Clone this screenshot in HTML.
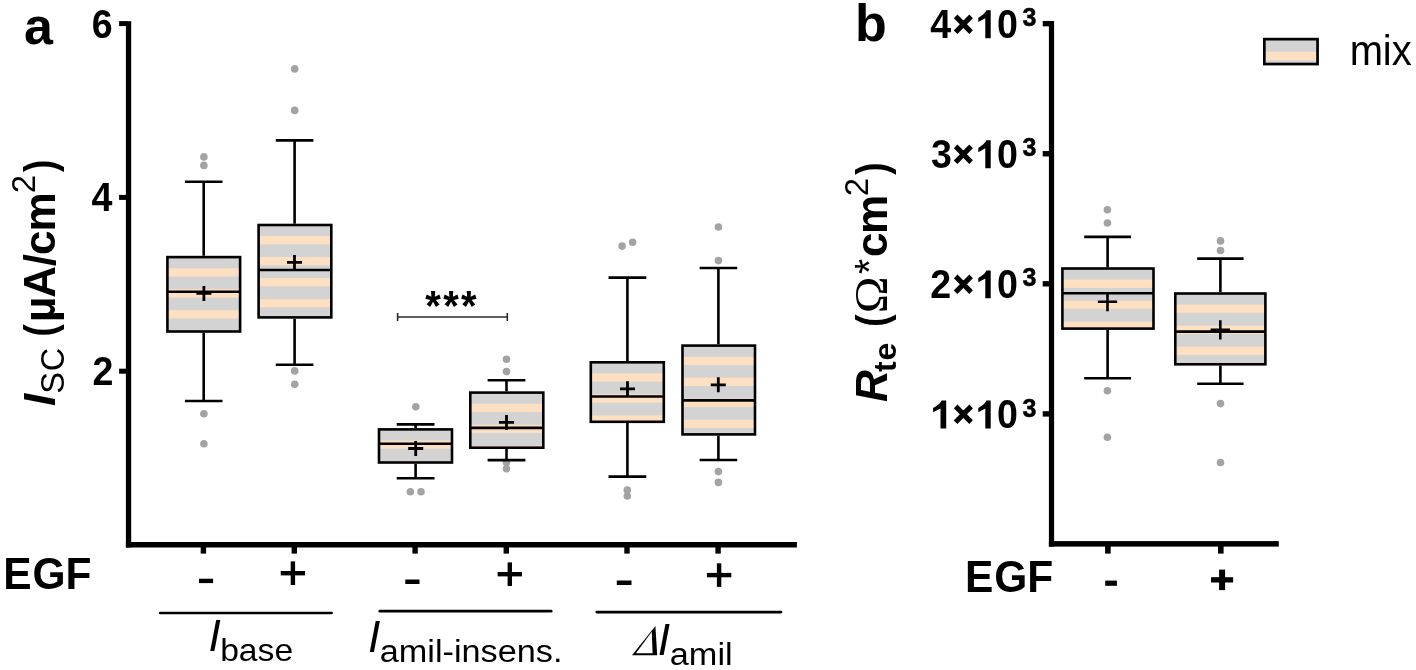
<!DOCTYPE html>
<html>
<head>
<meta charset="utf-8">
<title>Figure</title>
<style>
html,body{margin:0;padding:0;background:#fff;}
body{width:1416px;height:670px;overflow:hidden;font-family:"Liberation Sans",sans-serif;}
svg{display:block;}
text{font-kerning:none;}
svg{will-change:transform;}
</style>
</head>
<body>
<svg width="1416" height="670" viewBox="0 0 1416 670">
<rect x="0" y="0" width="1416" height="670" fill="#ffffff"/>
<defs>
<clipPath id="c0"><rect x="167.40" y="257.10" width="72.70" height="74.40"/></clipPath>
<clipPath id="c1"><rect x="258.60" y="225.00" width="72.70" height="92.40"/></clipPath>
<clipPath id="c2"><rect x="379.00" y="429.40" width="73.00" height="33.10"/></clipPath>
<clipPath id="c3"><rect x="470.30" y="392.60" width="73.00" height="55.10"/></clipPath>
<clipPath id="c4"><rect x="590.80" y="362.30" width="73.00" height="59.50"/></clipPath>
<clipPath id="c5"><rect x="682.50" y="345.60" width="72.50" height="88.80"/></clipPath>
<clipPath id="c6"><rect x="1062.40" y="268.50" width="91.10" height="60.10"/></clipPath>
<clipPath id="c7"><rect x="1175.30" y="293.50" width="90.10" height="70.80"/></clipPath>
</defs>
<rect x="125.90" y="21.20" width="5.30" height="526.30" fill="#000"/>
<rect x="125.90" y="542.00" width="671.00" height="5.50" fill="#000"/>
<rect x="119.10" y="21.10" width="7.90" height="5.00" fill="#000"/>
<rect x="119.10" y="194.90" width="7.90" height="5.00" fill="#000"/>
<rect x="119.10" y="368.70" width="7.90" height="5.00" fill="#000"/>
<rect x="200.70" y="547.00" width="5.40" height="6.60" fill="#000"/>
<rect x="291.60" y="547.00" width="5.40" height="6.60" fill="#000"/>
<rect x="412.40" y="547.00" width="5.40" height="6.60" fill="#000"/>
<rect x="503.60" y="547.00" width="5.40" height="6.60" fill="#000"/>
<rect x="624.30" y="547.00" width="5.40" height="6.60" fill="#000"/>
<rect x="715.40" y="547.00" width="5.40" height="6.60" fill="#000"/>
<rect x="1048.90" y="21.00" width="5.20" height="525.60" fill="#000"/>
<rect x="1048.90" y="541.10" width="229.90" height="5.50" fill="#000"/>
<rect x="1042.70" y="20.95" width="7.30" height="5.40" fill="#000"/>
<rect x="1042.70" y="151.05" width="7.30" height="5.40" fill="#000"/>
<rect x="1042.70" y="281.10" width="7.30" height="5.40" fill="#000"/>
<rect x="1042.70" y="411.20" width="7.30" height="5.40" fill="#000"/>
<rect x="1105.10" y="546.00" width="5.60" height="7.60" fill="#000"/>
<rect x="1218.00" y="546.00" width="5.60" height="7.60" fill="#000"/>
<circle cx="203.9" cy="156.9" r="3.8" fill="#a3a3a3"/>
<circle cx="203.9" cy="165.4" r="3.8" fill="#a3a3a3"/>
<circle cx="203.9" cy="413.8" r="3.8" fill="#a3a3a3"/>
<circle cx="203.9" cy="443.8" r="3.8" fill="#a3a3a3"/>
<path d="M203.7 181.8V255.8M203.7 332.8V401.0M184.9 181.8H222.5M184.9 401.0H222.5" stroke="#000" stroke-width="2.60" fill="none"/>
<rect x="167.40" y="257.10" width="72.70" height="74.40" fill="#d3d3d3"/>
<g clip-path="url(#c0)"><rect x="167.40" y="268.20" width="72.70" height="8.30" fill="#fddfc1"/><rect x="167.40" y="289.20" width="72.70" height="8.30" fill="#fddfc1"/><rect x="167.40" y="310.20" width="72.70" height="8.30" fill="#fddfc1"/><rect x="167.40" y="331.20" width="72.70" height="8.30" fill="#fddfc1"/></g>
<rect x="167.40" y="257.10" width="72.70" height="74.40" fill="none" stroke="#000" stroke-width="2.60"/>
<path d="M167.40 291.70H240.10" stroke="#000" stroke-width="2.60"/>
<path d="M196.40 293.40H211.40M203.90 285.90V300.90" stroke="#000" stroke-width="2.80"/>
<circle cx="294.7" cy="68.9" r="3.8" fill="#a3a3a3"/>
<circle cx="294.7" cy="110.4" r="3.8" fill="#a3a3a3"/>
<circle cx="294.7" cy="370.9" r="3.8" fill="#a3a3a3"/>
<circle cx="294.7" cy="384.3" r="3.8" fill="#a3a3a3"/>
<path d="M294.6 140.4V223.7M294.6 318.7V364.7M275.8 140.4H313.4M275.8 364.7H313.4" stroke="#000" stroke-width="2.60" fill="none"/>
<rect x="258.60" y="225.00" width="72.70" height="92.40" fill="#d3d3d3"/>
<g clip-path="url(#c1)"><rect x="258.60" y="236.10" width="72.70" height="8.30" fill="#fddfc1"/><rect x="258.60" y="257.10" width="72.70" height="8.30" fill="#fddfc1"/><rect x="258.60" y="278.10" width="72.70" height="8.30" fill="#fddfc1"/><rect x="258.60" y="299.10" width="72.70" height="8.30" fill="#fddfc1"/></g>
<rect x="258.60" y="225.00" width="72.70" height="92.40" fill="none" stroke="#000" stroke-width="2.60"/>
<path d="M258.60 270.00H331.30" stroke="#000" stroke-width="2.60"/>
<path d="M287.00 262.40H302.00M294.50 254.90V269.90" stroke="#000" stroke-width="2.80"/>
<circle cx="415.8" cy="406.7" r="3.8" fill="#a3a3a3"/>
<circle cx="410.4" cy="491.7" r="3.8" fill="#a3a3a3"/>
<circle cx="421.0" cy="491.7" r="3.8" fill="#a3a3a3"/>
<path d="M415.6 424.4V428.1M415.6 463.8V478.2M396.7 424.4H434.5M396.7 478.2H434.5" stroke="#000" stroke-width="2.60" fill="none"/>
<rect x="379.00" y="429.40" width="73.00" height="33.10" fill="#d3d3d3"/>
<g clip-path="url(#c2)"><rect x="379.00" y="440.50" width="73.00" height="8.30" fill="#fddfc1"/><rect x="379.00" y="461.50" width="73.00" height="8.30" fill="#fddfc1"/></g>
<rect x="379.00" y="429.40" width="73.00" height="33.10" fill="none" stroke="#000" stroke-width="2.60"/>
<path d="M379.00 443.80H452.00" stroke="#000" stroke-width="2.60"/>
<path d="M408.20 448.50H423.20M415.70 441.00V456.00" stroke="#000" stroke-width="2.80"/>
<circle cx="506.5" cy="359.2" r="3.8" fill="#a3a3a3"/>
<circle cx="506.5" cy="371.6" r="3.8" fill="#a3a3a3"/>
<circle cx="506.5" cy="462.4" r="3.8" fill="#a3a3a3"/>
<circle cx="506.5" cy="468.8" r="3.8" fill="#a3a3a3"/>
<path d="M506.5 380.2V391.3M506.5 449.0V460.1M487.6 380.2H525.4M487.6 460.1H525.4" stroke="#000" stroke-width="2.60" fill="none"/>
<rect x="470.30" y="392.60" width="73.00" height="55.10" fill="#d3d3d3"/>
<g clip-path="url(#c3)"><rect x="470.30" y="403.70" width="73.00" height="8.30" fill="#fddfc1"/><rect x="470.30" y="424.70" width="73.00" height="8.30" fill="#fddfc1"/><rect x="470.30" y="445.70" width="73.00" height="8.30" fill="#fddfc1"/></g>
<rect x="470.30" y="392.60" width="73.00" height="55.10" fill="none" stroke="#000" stroke-width="2.60"/>
<path d="M470.30 427.90H543.30" stroke="#000" stroke-width="2.60"/>
<path d="M499.00 422.40H514.00M506.50 414.90V429.90" stroke="#000" stroke-width="2.80"/>
<circle cx="622.1" cy="246.1" r="3.8" fill="#a3a3a3"/>
<circle cx="632.6" cy="242.3" r="3.8" fill="#a3a3a3"/>
<circle cx="627.3" cy="490.0" r="3.8" fill="#a3a3a3"/>
<circle cx="627.3" cy="496.0" r="3.8" fill="#a3a3a3"/>
<path d="M627.4 277.6V361.0M627.4 423.1V476.6M608.5 277.6H646.3M608.5 476.6H646.3" stroke="#000" stroke-width="2.60" fill="none"/>
<rect x="590.80" y="362.30" width="73.00" height="59.50" fill="#d3d3d3"/>
<g clip-path="url(#c4)"><rect x="590.80" y="373.40" width="73.00" height="8.30" fill="#fddfc1"/><rect x="590.80" y="394.40" width="73.00" height="8.30" fill="#fddfc1"/><rect x="590.80" y="415.40" width="73.00" height="8.30" fill="#fddfc1"/></g>
<rect x="590.80" y="362.30" width="73.00" height="59.50" fill="none" stroke="#000" stroke-width="2.60"/>
<path d="M590.80 396.50H663.80" stroke="#000" stroke-width="2.60"/>
<path d="M620.00 388.80H635.00M627.50 381.30V396.30" stroke="#000" stroke-width="2.80"/>
<circle cx="718.4" cy="227.0" r="3.8" fill="#a3a3a3"/>
<circle cx="718.4" cy="260.6" r="3.8" fill="#a3a3a3"/>
<circle cx="718.4" cy="471.6" r="3.8" fill="#a3a3a3"/>
<circle cx="718.4" cy="482.4" r="3.8" fill="#a3a3a3"/>
<path d="M718.4 268.0V344.3M718.4 435.7V460.0M699.6 268.0H737.2M699.6 460.0H737.2" stroke="#000" stroke-width="2.60" fill="none"/>
<rect x="682.50" y="345.60" width="72.50" height="88.80" fill="#d3d3d3"/>
<g clip-path="url(#c5)"><rect x="682.50" y="356.70" width="72.50" height="8.30" fill="#fddfc1"/><rect x="682.50" y="377.70" width="72.50" height="8.30" fill="#fddfc1"/><rect x="682.50" y="398.70" width="72.50" height="8.30" fill="#fddfc1"/><rect x="682.50" y="419.70" width="72.50" height="8.30" fill="#fddfc1"/></g>
<rect x="682.50" y="345.60" width="72.50" height="88.80" fill="none" stroke="#000" stroke-width="2.60"/>
<path d="M682.50 400.40H755.00" stroke="#000" stroke-width="2.60"/>
<path d="M710.80 384.80H725.80M718.30 377.30V392.30" stroke="#000" stroke-width="2.80"/>
<circle cx="1107.4" cy="209.7" r="3.8" fill="#a3a3a3"/>
<circle cx="1107.4" cy="223.0" r="3.8" fill="#a3a3a3"/>
<circle cx="1107.4" cy="390.8" r="3.8" fill="#a3a3a3"/>
<circle cx="1107.4" cy="437.3" r="3.8" fill="#a3a3a3"/>
<path d="M1107.6 236.9V267.2M1107.6 329.9V378.3M1084.2 236.9H1131.0M1084.2 378.3H1131.0" stroke="#000" stroke-width="2.60" fill="none"/>
<rect x="1062.40" y="268.50" width="91.10" height="60.10" fill="#d3d3d3"/>
<g clip-path="url(#c6)"><rect x="1062.40" y="279.60" width="91.10" height="8.30" fill="#fddfc1"/><rect x="1062.40" y="300.60" width="91.10" height="8.30" fill="#fddfc1"/><rect x="1062.40" y="321.60" width="91.10" height="8.30" fill="#fddfc1"/></g>
<rect x="1062.40" y="268.50" width="91.10" height="60.10" fill="none" stroke="#000" stroke-width="2.60"/>
<path d="M1062.40 293.30H1153.50" stroke="#000" stroke-width="2.60"/>
<path d="M1097.85 301.70H1117.15M1107.50 292.05V311.35" stroke="#000" stroke-width="2.60"/>
<circle cx="1220.5" cy="240.9" r="3.8" fill="#a3a3a3"/>
<circle cx="1220.5" cy="250.5" r="3.8" fill="#a3a3a3"/>
<circle cx="1220.5" cy="403.6" r="3.8" fill="#a3a3a3"/>
<circle cx="1220.5" cy="462.5" r="3.8" fill="#a3a3a3"/>
<path d="M1220.4 258.6V292.2M1220.4 365.6V383.7M1197.2 258.6H1243.6M1197.2 383.7H1243.6" stroke="#000" stroke-width="2.60" fill="none"/>
<rect x="1175.30" y="293.50" width="90.10" height="70.80" fill="#d3d3d3"/>
<g clip-path="url(#c7)"><rect x="1175.30" y="304.60" width="90.10" height="8.30" fill="#fddfc1"/><rect x="1175.30" y="325.60" width="90.10" height="8.30" fill="#fddfc1"/><rect x="1175.30" y="346.60" width="90.10" height="8.30" fill="#fddfc1"/></g>
<rect x="1175.30" y="293.50" width="90.10" height="70.80" fill="none" stroke="#000" stroke-width="2.60"/>
<path d="M1175.30 331.60H1265.40" stroke="#000" stroke-width="2.60"/>
<path d="M1210.65 329.80H1229.95M1220.30 320.15V339.45" stroke="#000" stroke-width="2.60"/>
<path d="M396.9 317H508M397.6 313V320.9M507.3 313V320.9" stroke="#2a2a2a" stroke-width="1.6" fill="none"/>
<text transform="translate(0,320.40) scale(1.0000,1.0500)" x="425.18 443.18 461.08" y="0" font-family="'Liberation Sans', sans-serif" font-size="40.00px" font-weight="bold" font-style="normal" >***</text>
<text transform="translate(0,43.70) scale(1.0000,1.0000)" x="23.98" y="0" font-family="'Liberation Sans', sans-serif" font-size="52.00px" font-weight="bold" font-style="normal" >a</text>
<text transform="translate(0,40.80) scale(1.0000,1.0000)" x="854.97" y="0" font-family="'Liberation Sans', sans-serif" font-size="52.00px" font-weight="bold" font-style="normal" >b</text>
<text transform="translate(0,37.50) scale(1.0000,1.0700)" x="91.85" y="0" font-family="'Liberation Sans', sans-serif" font-size="37.60px" font-weight="bold" font-style="normal" >6</text>
<text transform="translate(0,211.30) scale(1.0000,1.0700)" x="91.49" y="0" font-family="'Liberation Sans', sans-serif" font-size="37.60px" font-weight="bold" font-style="normal" >4</text>
<text transform="translate(0,385.10) scale(1.0000,1.0700)" x="92.39" y="0" font-family="'Liberation Sans', sans-serif" font-size="37.60px" font-weight="bold" font-style="normal" >2</text>
<text transform="translate(0,38.15) scale(1.0000,1.0700)" x="930.13 997.11" y="0" font-family="'Liberation Sans', sans-serif" font-size="37.60px" font-weight="bold" font-style="normal" >40</text>
<text transform="translate(0,36.05) scale(1.0000,1.0000)" x="953.30" y="0" font-family="'Liberation Sans', sans-serif" font-size="34.60px" font-weight="bold" font-style="normal" stroke="#000" stroke-width="1.3">×</text>
<path d="M986.50 10.25L990.70 10.25L990.70 38.15L985.30 38.15L985.30 18.25L978.30 22.05L978.30 17.85Q984.30 14.45 986.50 10.25Z" fill="#000"/>
<text transform="translate(0,26.25) scale(1.0000,1.0500)" x="1022.63" y="0" font-family="'Liberation Sans', sans-serif" font-size="25.00px" font-weight="bold" font-style="normal" stroke="#000" stroke-width="0.5">3</text>
<text transform="translate(0,168.25) scale(1.0000,1.0700)" x="931.04 997.11" y="0" font-family="'Liberation Sans', sans-serif" font-size="37.60px" font-weight="bold" font-style="normal" >30</text>
<text transform="translate(0,166.15) scale(1.0000,1.0000)" x="953.30" y="0" font-family="'Liberation Sans', sans-serif" font-size="34.60px" font-weight="bold" font-style="normal" stroke="#000" stroke-width="1.3">×</text>
<path d="M986.50 140.35L990.70 140.35L990.70 168.25L985.30 168.25L985.30 148.35L978.30 152.15L978.30 147.95Q984.30 144.55 986.50 140.35Z" fill="#000"/>
<text transform="translate(0,156.35) scale(1.0000,1.0500)" x="1022.63" y="0" font-family="'Liberation Sans', sans-serif" font-size="25.00px" font-weight="bold" font-style="normal" stroke="#000" stroke-width="0.5">3</text>
<text transform="translate(0,298.30) scale(1.0000,1.0700)" x="930.30 997.11" y="0" font-family="'Liberation Sans', sans-serif" font-size="37.60px" font-weight="bold" font-style="normal" >20</text>
<text transform="translate(0,296.20) scale(1.0000,1.0000)" x="953.30" y="0" font-family="'Liberation Sans', sans-serif" font-size="34.60px" font-weight="bold" font-style="normal" stroke="#000" stroke-width="1.3">×</text>
<path d="M986.50 270.40L990.70 270.40L990.70 298.30L985.30 298.30L985.30 278.40L978.30 282.20L978.30 278.00Q984.30 274.60 986.50 270.40Z" fill="#000"/>
<text transform="translate(0,286.40) scale(1.0000,1.0500)" x="1022.63" y="0" font-family="'Liberation Sans', sans-serif" font-size="25.00px" font-weight="bold" font-style="normal" stroke="#000" stroke-width="0.5">3</text>
<path d="M941.70 400.50L946.20 400.50L946.20 428.40L940.50 428.40L940.50 408.50L933.10 412.30L933.10 408.10Q939.50 404.70 941.70 400.50Z" fill="#000"/>
<text transform="translate(0,428.40) scale(1.0000,1.0700)" x="997.11" y="0" font-family="'Liberation Sans', sans-serif" font-size="37.60px" font-weight="bold" font-style="normal" >0</text>
<text transform="translate(0,426.30) scale(1.0000,1.0000)" x="953.30" y="0" font-family="'Liberation Sans', sans-serif" font-size="34.60px" font-weight="bold" font-style="normal" stroke="#000" stroke-width="1.3">×</text>
<path d="M986.50 400.50L990.70 400.50L990.70 428.40L985.30 428.40L985.30 408.50L978.30 412.30L978.30 408.10Q984.30 404.70 986.50 400.50Z" fill="#000"/>
<text transform="translate(0,416.50) scale(1.0000,1.0500)" x="1022.63" y="0" font-family="'Liberation Sans', sans-serif" font-size="25.00px" font-weight="bold" font-style="normal" stroke="#000" stroke-width="0.5">3</text>
<text transform="translate(54.50,0) rotate(-90) scale(1.0000,1.0000)" x="-406.07" y="0" font-family="'Liberation Sans', sans-serif" font-size="44.00px" font-weight="bold" font-style="italic">I</text>
<text transform="translate(64.40,0) rotate(-90) scale(1.0000,1.0400)" x="-393.68 -371.25" y="0" font-family="'Liberation Sans', sans-serif" font-size="32.50px" font-weight="normal" font-style="normal">SC</text>
<text transform="translate(54.50,0) rotate(-90) scale(1.0000,1.0000)" x="-321.98 -297.80 -266.33 -254.92 -231.60" y="0" font-family="'Liberation Sans', sans-serif" font-size="44.00px" font-weight="bold" font-style="normal">µA/cm</text>
<text transform="translate(54.50,0) rotate(-90) scale(0.8400,1.0000)" x="-400.52 -204.80" y="0" font-family="'Liberation Sans', sans-serif" font-size="44.00px" font-weight="bold" font-style="normal">()</text>
<text transform="translate(35.30,0) rotate(-90) scale(1.0000,1.0000)" x="-193.26" y="0" font-family="'Liberation Sans', sans-serif" font-size="33.00px" font-weight="normal" font-style="normal">2</text>
<text transform="translate(887.00,0) rotate(-90) scale(1.0000,1.0000)" x="-402.07" y="0" font-family="'Liberation Sans', sans-serif" font-size="44.00px" font-weight="bold" font-style="italic">R</text>
<text transform="translate(895.80,0) rotate(-90) scale(1.0000,1.0000)" x="-371.99 -360.45" y="0" font-family="'Liberation Sans', sans-serif" font-size="32.00px" font-weight="bold" font-style="normal">te</text>
<text transform="translate(887.00,0) rotate(-90) scale(1.0000,1.0000)" x="-256.92 -234.10" y="0" font-family="'Liberation Sans', sans-serif" font-size="44.00px" font-weight="bold" font-style="normal">cm</text>
<text transform="translate(887.00,0) rotate(-90) scale(0.8400,1.0000)" x="-389.10 -207.90" y="0" font-family="'Liberation Sans', sans-serif" font-size="44.00px" font-weight="bold" font-style="normal">()</text>
<text transform="translate(887.00,0) rotate(-90) scale(1.0800,1.0000)" x="-290.16" y="0" font-family="'Liberation Serif', serif" font-size="46.00px" font-weight="normal" font-style="normal">Ω</text>
<text transform="translate(883.20,0) rotate(-90) scale(1.0000,1.0300)" x="-274.13" y="0" font-family="'Liberation Sans', sans-serif" font-size="39.00px" font-weight="normal" font-style="normal">*</text>
<text transform="translate(867.80,0) rotate(-90) scale(1.0000,1.0000)" x="-196.16" y="0" font-family="'Liberation Sans', sans-serif" font-size="33.00px" font-weight="normal" font-style="normal">2</text>
<text transform="translate(0,589.40) scale(1.0000,1.0500)" x="3.16 32.46 65.46" y="0" font-family="'Liberation Sans', sans-serif" font-size="42.50px" font-weight="bold" font-style="normal" >EGF</text>
<text transform="translate(0,592.40) scale(1.0000,1.0500)" x="964.96 994.26 1027.26" y="0" font-family="'Liberation Sans', sans-serif" font-size="42.50px" font-weight="bold" font-style="normal" >EGF</text>
<rect x="199.00" y="578.70" width="14.10" height="4.40" fill="#000"/>
<rect x="280.75" y="571.00" width="24.30" height="4.40" fill="#000"/>
<rect x="290.70" y="561.40" width="4.40" height="23.60" fill="#000"/>
<rect x="405.30" y="579.50" width="14.20" height="4.50" fill="#000"/>
<rect x="497.65" y="572.00" width="24.30" height="4.40" fill="#000"/>
<rect x="507.60" y="562.40" width="4.40" height="23.60" fill="#000"/>
<rect x="616.80" y="580.50" width="14.70" height="4.50" fill="#000"/>
<rect x="706.90" y="572.90" width="24.40" height="4.40" fill="#000"/>
<rect x="716.90" y="563.30" width="4.40" height="23.60" fill="#000"/>
<rect x="1105.20" y="580.60" width="11.70" height="5.20" fill="#000"/>
<rect x="1211.05" y="577.20" width="22.10" height="5.30" fill="#000"/>
<rect x="1219.10" y="569.60" width="6.00" height="20.50" fill="#000"/>
<path d="M160.15 613.00H331.55" stroke="#000" stroke-width="2.7" stroke-linecap="round" fill="none"/>
<path d="M379.85 611.20H551.15" stroke="#000" stroke-width="2.7" stroke-linecap="round" fill="none"/>
<path d="M596.75 612.10H781.05" stroke="#000" stroke-width="2.7" stroke-linecap="round" fill="none"/>
<text transform="translate(0,650.90) scale(1.0000,1.0000)" x="208.45" y="0" font-family="'Liberation Sans', sans-serif" font-size="44.30px" font-weight="normal" font-style="italic" >I</text>
<text transform="translate(0,661.00) scale(1.0660,1.0000)" x="206.50" y="0" font-family="'Liberation Sans', sans-serif" font-size="31.60px" font-weight="normal" font-style="normal">base</text>
<text transform="translate(0,652.00) scale(1.0000,1.0000)" x="368.04" y="0" font-family="'Liberation Sans', sans-serif" font-size="44.50px" font-weight="normal" font-style="italic" >I</text>
<text transform="translate(0,662.00) scale(1.1050,1.0000)" x="343.66" y="0" font-family="'Liberation Sans', sans-serif" font-size="31.00px" font-weight="normal" font-style="normal">amil-insens.</text>
<path fill-rule="evenodd" d="M632.0 655.2L655.4 625.9L657.2 655.2ZM635.9 653.2L652.6 653.2L651.8 631.8Z" fill="#000"/>
<text transform="translate(0,655.10) scale(1.0000,1.0000)" x="657.84" y="0" font-family="'Liberation Sans', sans-serif" font-size="44.40px" font-weight="normal" font-style="italic" >I</text>
<text transform="translate(0,664.80) scale(1.1050,1.0000)" x="606.19" y="0" font-family="'Liberation Sans', sans-serif" font-size="31.00px" font-weight="normal" font-style="normal">amil</text>
<rect x="1264.35" y="39.15" width="53.20" height="24.90" fill="#d3d3d3"/>
<rect x="1264.35" y="51.70" width="53.20" height="8.70" fill="#fddfc1"/>
<rect x="1264.35" y="39.15" width="53.20" height="24.90" fill="none" stroke="#000" stroke-width="2.7"/>
<text transform="translate(0,65.00) scale(1.0000,1.0600)" x="1349.84 1382.72 1391.85" y="0" font-family="'Liberation Sans', sans-serif" font-size="40.00px" font-weight="normal" font-style="normal" >mix</text>
</svg>
</body>
</html>
